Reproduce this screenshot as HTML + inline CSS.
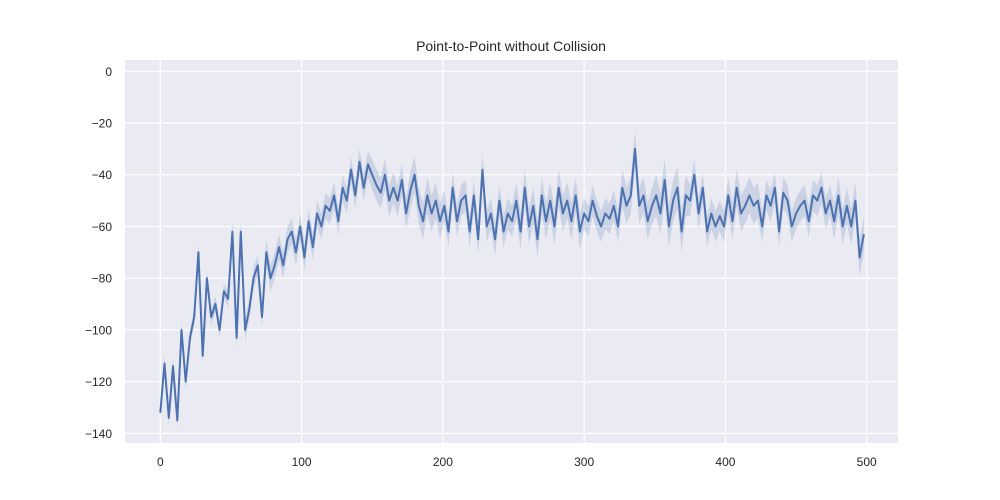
<!DOCTYPE html>
<html><head><meta charset="utf-8"><style>
html,body{margin:0;padding:0;background:#fff;}
svg{display:block;font-family:"Liberation Sans","DejaVu Sans",sans-serif;}
</style></head><body>
<svg id="chart" width="1000" height="500" viewBox="0 0 1000 500">
<rect x="125" y="60" width="773" height="383" fill="#eaeaf2"/>
<g id="grid"></g>
<path id="band" fill="#4c72b0" fill-opacity="0.2" stroke="none"/>
<path id="line" fill="none" stroke="#4c72b0" stroke-width="2" stroke-linejoin="round"/>
<g id="ticks" font-size="12" fill="#262626"></g>
<text x="511" y="51" font-size="14" text-anchor="middle" fill="#262626">Point-to-Point without Collision</text>
</svg>
<script>
const stepX = 3;
const values = [-132,-113,-134,-114,-135,-100,-120,-103,-95,-70,-110,-80,-95,-90,-100,-85,-88,-62,-103,-62,-100,-92,-80,-75,-95,-70,-80,-75,-68,-75,-65,-62,-70,-60,-72,-58,-68,-55,-60,-52,-54,-48,-58,-45,-50,-38,-48,-35,-45,-36,-40,-44,-47,-40,-50,-45,-50,-42,-55,-46,-40,-52,-58,-48,-55,-50,-58,-52,-62,-45,-58,-50,-48,-62,-48,-65,-38,-60,-55,-65,-50,-62,-55,-58,-50,-62,-45,-60,-52,-65,-48,-58,-50,-60,-45,-55,-50,-58,-48,-62,-55,-58,-50,-56,-60,-55,-57,-52,-60,-45,-52,-48,-30,-52,-48,-58,-52,-48,-55,-42,-60,-50,-45,-62,-48,-50,-40,-55,-45,-62,-55,-60,-56,-60,-48,-58,-45,-55,-52,-48,-52,-50,-60,-48,-52,-45,-62,-47,-50,-60,-55,-52,-50,-58,-48,-50,-45,-55,-50,-58,-48,-60,-52,-60,-50,-72,-63];
const ciHalf = [3,3,4,5,5,5,6,7,6,6,7,7,6,7,8,6,7,6,6,7,7];
const xTicks = [0,100,200,300,400,500];
const yTicks = [0,-20,-40,-60,-80,-100,-120,-140];

const xs = v => 160.3 + v * 1.4128;
const ys = v => 71.3 - v * 2.586;
const NS = "http://www.w3.org/2000/svg";
const grid = document.getElementById('grid');
const ticks = document.getElementById('ticks');
xTicks.forEach(t => {
  const l = document.createElementNS(NS,'line');
  
  
  l.setAttribute('x1', xs(t)); l.setAttribute('x2', xs(t));
  l.setAttribute('y1', 60); l.setAttribute('y2', 443);
  l.setAttribute('stroke', '#fff'); l.setAttribute('stroke-width', '1.2');
  grid.appendChild(l);
  const tx = document.createElementNS(NS,'text');
  
  
  tx.setAttribute('x', xs(t)); tx.setAttribute('y', 466);
  tx.setAttribute('text-anchor', 'middle');
  tx.textContent = t;
  ticks.appendChild(tx);
});
yTicks.forEach(t => {
  const l = document.createElementNS(NS,'line');
  
  
  l.setAttribute('x1', 125); l.setAttribute('x2', 898);
  l.setAttribute('y1', ys(t)); l.setAttribute('y2', ys(t));
  l.setAttribute('stroke', '#fff'); l.setAttribute('stroke-width', '1.2');
  grid.appendChild(l);
  const tx = document.createElementNS(NS,'text');
  
  
  tx.setAttribute('x', 112); tx.setAttribute('y', ys(t) + 4.5);
  tx.setAttribute('text-anchor', 'end');
  tx.textContent = t === 0 ? '0' : '\u2212' + Math.abs(t);
  ticks.appendChild(tx);
});
let d = '', up = [], lo = [];
values.forEach((v, i) => {
  const x = i * stepX;
  d += (i ? 'L' : 'M') + xs(x).toFixed(1) + ',' + ys(v).toFixed(1);
  const c = ciHalf[Math.min(ciHalf.length - 1, Math.floor(x / 25))];
  up.push(xs(x).toFixed(1) + ',' + ys(v + c).toFixed(1));
  lo.push(xs(x).toFixed(1) + ',' + ys(v - c).toFixed(1));
});
document.getElementById('line').setAttribute('d', d);
document.getElementById('band').setAttribute('d', 'M' + up.join('L') + 'L' + lo.reverse().join('L') + 'Z');
</script>
</body></html>
